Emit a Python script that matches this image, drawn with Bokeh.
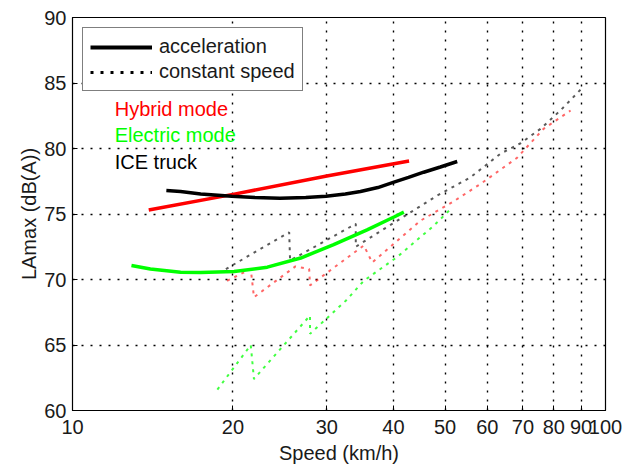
import numpy as np
from bokeh.plotting import figure
from bokeh.models import FixedTicker, Legend, LegendItem, Label
from bokeh.embed import file_html
from bokeh.resources import INLINE

# ---- data ----
x_ticks = [10, 20, 30, 40, 50, 60, 70, 80, 90, 100]
x_tick_labels = ["10", "20", "30", "40", "50", "60", "70", "80", "90", "100"]
y_ticks = [60, 65, 70, 75, 80, 85, 90]

# acceleration (solid)
hyb_acc_speed = [13.9, 20, 30, 42.8]
hyb_acc_level = [75.3, 76.5, 77.9, 79.05]

ice_acc_speed = [15.0, 15.95, 17.4, 19.9, 22.0, 24.5, 27.4, 29.9, 32.5, 34.7, 37.4, 40.1, 42.7, 45.6, 49.0, 52.7]
ice_acc_level = [76.79, 76.72, 76.53, 76.36, 76.26, 76.21, 76.26, 76.36, 76.53, 76.72, 77.02, 77.43, 77.79, 78.19, 78.59, 79.01]

ele_acc_speed = [12.9, 14.0, 15.95, 17.4, 20.1, 23.2, 26.8, 30.9, 35.7, 40.1, 41.85]
ele_acc_level = [71.07, 70.8, 70.56, 70.53, 70.61, 70.94, 71.64, 72.66, 73.79, 74.77, 75.14]

# constant speed (dotted)
hyb_cs_speed = [19.5, 21.6, 21.9, 26.2, 27.8, 27.9, 35.2, 36.5, 45.0, 51.6, 58.3, 68.3, 76.5, 86.0]
hyb_cs_level = [69.9, 70.8, 68.65, 71.0, 70.8, 69.55, 72.6, 71.3, 74.5, 75.9, 77.3, 79.3, 81.5, 82.9]

ice_cs_speed = [19.4, 25.5, 25.6, 34.0, 34.0, 48.3, 55.8, 63.5, 69.3, 75.5, 82.3, 90.3]
ice_cs_level = [70.8, 73.6, 71.45, 74.25, 72.5, 76.4, 77.8, 79.6, 80.4, 81.5, 82.9, 84.6]

ele_cs_speed = [18.7, 21.6, 21.9, 27.9, 27.9, 32.6, 35.2, 40.6, 47.6, 51.6]
ele_cs_level = [61.6, 65.0, 62.4, 67.25, 65.85, 68.4, 69.9, 71.7, 74.1, 75.5]

legend_labels = ["acceleration", "constant speed"]
mode_labels = ["Hybrid mode", "Electric mode", "ICE truck"]
mode_colors = ["#ff0000", "#00ff00", "#000000"]

FONT = "Liberation Sans"
FS = "20px"

p = figure(frame_width=533, frame_height=393,
           x_axis_type="log", x_range=(10, 100), y_range=(60, 90),
           output_backend="svg", toolbar_location=None,
           min_border_left=72, min_border_right=28,
           min_border_top=17, min_border_bottom=56,
           background_fill_color="white", border_fill_color="white")

p.outline_line_color = "black"
p.outline_line_width = 1.2
p.outline_line_alpha = 1

# axes
p.xaxis.ticker = FixedTicker(ticks=x_ticks)
p.xaxis.major_label_overrides = {t: l for t, l in zip(x_ticks, x_tick_labels)}
p.yaxis.ticker = FixedTicker(ticks=y_ticks)
for ax in (p.xaxis[0], p.yaxis[0]):
    ax.major_tick_in = 5
    ax.major_tick_out = 0
    ax.minor_tick_line_color = None
    ax.major_tick_line_color = "black"
    ax.axis_line_color = "black"
    ax.major_label_text_font = FONT
    ax.major_label_text_font_size = FS
    ax.major_label_text_color = "#1a1a1a"
    ax.axis_label_text_font = FONT
    ax.axis_label_text_font_size = FS
    ax.axis_label_text_font_style = "normal"
    ax.axis_label_text_color = "#1a1a1a"
p.xaxis.axis_label = "Speed (km/h)"
p.yaxis.axis_label = "LAmax (dB(A))"
p.xaxis.major_label_standoff = 9
p.xaxis.axis_label_standoff = 5
p.yaxis.major_label_standoff = 6
p.yaxis.axis_label_standoff = 1

# grid
p.xgrid.ticker = FixedTicker(ticks=x_ticks[1:-1])
p.ygrid.ticker = FixedTicker(ticks=y_ticks[1:-1])
for g in (p.xgrid[0], p.ygrid[0]):
    g.grid_line_color = "black"
    g.grid_line_dash = "2 7"
    g.grid_line_width = 1.4

# constant speed (dotted)
cs_w = 2
cs_dash = "3 5"
p.line(hyb_cs_speed, hyb_cs_level, line_color="#ff0000", line_alpha=0.6, line_width=cs_w, line_dash=cs_dash)
p.line(ele_cs_speed, ele_cs_level, line_color="#00ff00", line_alpha=0.75, line_width=cs_w, line_dash=cs_dash)
p.line(ice_cs_speed, ice_cs_level, line_color="#000000", line_alpha=0.65, line_width=cs_w, line_dash=cs_dash)

# acceleration (solid)
p.line(hyb_acc_speed, hyb_acc_level, line_color="#ff0000", line_width=3.5)
p.line(ice_acc_speed, ice_acc_level, line_color="#000000", line_width=3.5)
p.line(ele_acc_speed, ele_acc_level, line_color="#00ff00", line_width=3.5)

# legend-only proxy renderers (no visible data)
r_acc = p.line([np.nan, np.nan], [np.nan, np.nan], line_color="black", line_width=4)
r_cs = p.line([np.nan, np.nan], [np.nan, np.nan], line_color="black", line_width=3, line_dash="3 7")
legend = Legend(items=[LegendItem(label=legend_labels[0], renderers=[r_acc]),
                       LegendItem(label=legend_labels[1], renderers=[r_cs])],
                location="top_left", margin=10, padding=7, spacing=2,
                glyph_width=62, glyph_height=20, label_height=20,
                label_standoff=7,
                label_text_font=FONT, label_text_font_size=FS,
                label_text_color="#1a1a1a",
                border_line_color="black", border_line_width=1.3,
                background_fill_color="white", background_fill_alpha=1)
p.add_layout(legend)

# mode labels
mode_x = [12.0, 12.0, 12.0]
mode_y = [83.05, 81.0, 78.95]
for txt, col, mx, my in zip(mode_labels, mode_colors, mode_x, mode_y):
    p.add_layout(Label(x=mx, y=my, text=txt, text_color=col,
                       text_font=FONT, text_font_size=FS,
                       text_baseline="middle", text_align="left"))

open("out.html", "w").write(file_html(p, INLINE))
